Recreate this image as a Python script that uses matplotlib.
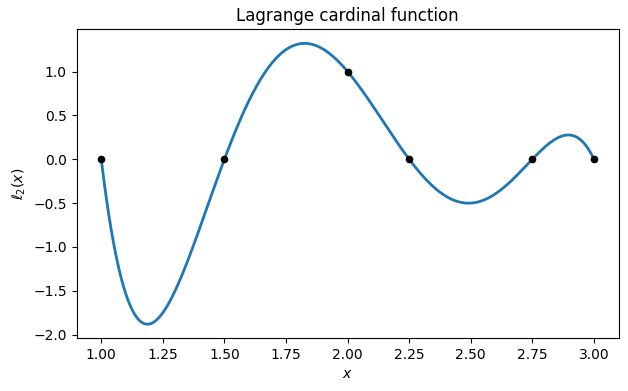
import numpy as np
import matplotlib
matplotlib.use("Agg")
import matplotlib.pyplot as plt

# interpolation nodes and the cardinal values at them
nodes = [1.0, 1.5, 2.0, 2.25, 2.75, 3.0]
node_vals = [0, 0, 1, 0, 0, 0]
k = 2

def cardinal(x, xs, k):
    out = np.ones_like(x)
    for j, xj in enumerate(xs):
        if j != k:
            out *= (x - xj) / (xs[k] - xj)
    return out

xx = np.linspace(nodes[0], nodes[-1], 400)
yy = cardinal(xx, nodes, k)

fig, ax = plt.subplots(figsize=(6.28, 3.91), dpi=100)
ax.plot(xx, yy, lw=2)
ax.plot(nodes, node_vals, "ko", ms=4.5)
ax.set_title("Lagrange cardinal function")
ax.set_xlabel("$x$")
ax.set_ylabel(r"$\ell_2(x)$")
fig.subplots_adjust(left=0.122, right=0.985, top=0.925, bottom=0.135)
fig.savefig("out.png")
